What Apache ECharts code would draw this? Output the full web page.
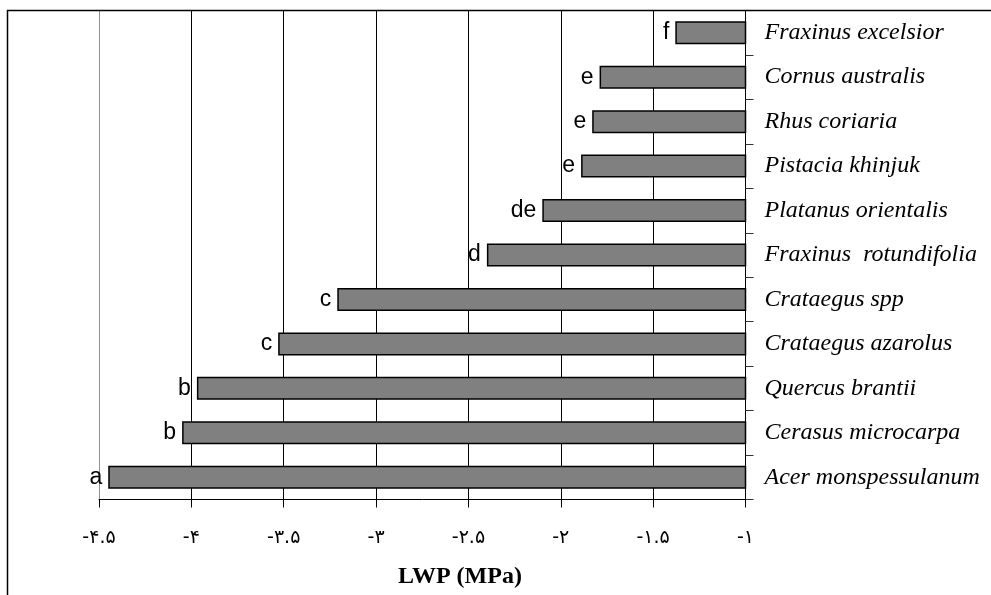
<!DOCTYPE html>
<html>
<head>
<meta charset="utf-8">
<script src="https://cdn.jsdelivr.net/npm/echarts@6/dist/echarts.min.js"></script>
<style>
html,body{margin:0;padding:0;background:#fff;}
#chart{width:991px;height:595px;}
</style>
</head>
<body>
<div id="chart"></div>
<script>
const categories = [
  'Fraxinus excelsior',
  'Cornus australis',
  'Rhus coriaria',
  'Pistacia khinjuk',
  'Platanus orientalis',
  'Fraxinus  rotundifolia',
  'Crataegus spp',
  'Crataegus azarolus',
  'Quercus brantii',
  'Cerasus microcarpa',
  'Acer monspessulanum'
];
const lwpValues = [-1.38, -1.79, -1.83, -1.89, -2.10, -2.40, -3.21, -3.53, -3.97, -4.05, -4.45];
const groupLetters = ['f', 'e', 'e', 'e', 'de', 'd', 'c', 'c', 'b', 'b', 'a'];
const tickValues = [-4.5, -4, -3.5, -3, -2.5, -2, -1.5, -1];
const tickLabels = ['-۴.۵', '-۴', '-۳.۵', '-۳', '-۲.۵', '-۲', '-۱.۵', '-۱'];
const axisTitle = 'LWP (MPa)';

const chart = echarts.init(document.getElementById('chart'), null, {renderer: 'canvas'});
chart.setOption({
  backgroundColor: '#fff',
  animation: false,
  grid: {left: 99, right: 245.5, top: 10.5, bottom: 95.5, containLabel: false},
  xAxis: {
    type: 'value',
    min: -4.5,
    max: -1,
    interval: 0.5,
    axisLine: {show: true, onZero: false, lineStyle: {color: '#000', width: 1}},
    axisTick: {show: true, length: 8, lineStyle: {color: '#000'}},
    axisLabel: {
      margin: 29,
      fontFamily: 'DejaVu Sans',
      fontSize: 19,
      color: '#000',
      formatter: function (v) {
        const i = tickValues.indexOf(Math.round(v * 10) / 10);
        return i >= 0 ? tickLabels[i] : '';
      }
    },
    splitLine: {show: true, lineStyle: {color: ['#909090', '#000', '#000', '#000', '#000', '#000', '#000', '#000'], width: 1}}
  },
  yAxis: {
    type: 'category',
    position: 'right',
    inverse: true,
    data: categories,
    axisLine: {show: true, lineStyle: {color: '#000', width: 1}},
    axisTick: {show: true, length: 8, lineStyle: {color: '#333'}},
    axisLabel: {
      margin: 19,
      fontFamily: 'Liberation Serif',
      fontStyle: 'italic',
      fontSize: 24,
      color: '#000'
    },
    splitLine: {show: false}
  },
  series: [{
    type: 'bar',
    data: lwpValues,
    barWidth: 23,
    clip: true,
    itemStyle: {color: '#808080', borderColor: '#000', borderWidth: 1.5},
    label: {
      show: true,
      position: 'left',
      distance: 6,
      fontFamily: 'Liberation Sans',
      fontSize: 23,
      color: '#000',
      formatter: function (p) { return groupLetters[p.dataIndex]; }
    }
  }],
  graphic: [
    {type: 'rect', shape: {x: 7.5, y: 10.5, width: 1000, height: 600}, style: {fill: null, stroke: '#000', lineWidth: 1.5}, silent: true, z: 100},
    {type: 'text', x: 460, y: 577, style: {text: axisTitle, fontFamily: 'Liberation Serif', fontWeight: 'bold', fontSize: 24, fill: '#000', align: 'center', verticalAlign: 'middle'}}
  ]
});
</script>
</body>
</html>
